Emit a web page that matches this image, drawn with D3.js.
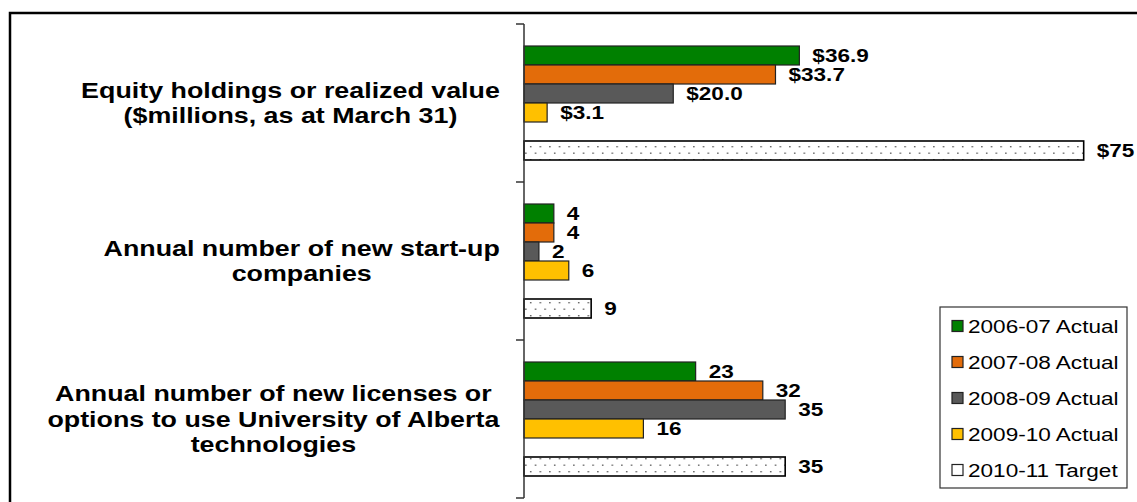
<!DOCTYPE html>
<html>
<head>
<meta charset="utf-8">
<script src="https://cdn.jsdelivr.net/npm/d3@7"></script>
<style>
    body { margin: 0; background: #ffffff; }
    text { font-family: "Liberation Sans", Arial, sans-serif; fill: #000; }
</style>
</head>
<body>
<svg id="drawing_region"></svg>
<script>
// category label lines (top to bottom)
const categories = [
    ["Equity holdings or realized value", "($millions, as at March 31)"],
    ["Annual number of new start-up", "companies"],
    ["Annual number of new licenses or", "options to use University of Alberta", "technologies"]
];

const seriesNames = ["2006-07 Actual", "2007-08 Actual", "2008-09 Actual", "2009-10 Actual", "2010-11 Target"];

const actual0607 = [36.9, 4, 23];
const actual0708 = [33.7, 4, 32];
const actual0809 = [20.0, 2, 35];
const actual0910 = [3.1, 6, 16];
const target1011 = [75, 9, 35];

const labels0607 = ["$36.9", "4", "23"];
const labels0708 = ["$33.7", "4", "32"];
const labels0809 = ["$20.0", "2", "35"];
const labels0910 = ["$3.1", "6", "16"];
const labels1011 = ["$75", "9", "35"];

const xDomain = [0, 80];

const seriesValues = [actual0607, actual0708, actual0809, actual0910, target1011];
const seriesLabels = [labels0607, labels0708, labels0809, labels0910, labels1011];
const colors = ["#008000", "#e36c0a", "#595959", "#ffc000", "url(#dots)"];

var config = {
    parent: '#drawing_region',
    width: 1137,
    height: 502,
    plot: { left: 524, right: 1121, top: 24, bottom: 498 },
    stretch: 1.22,
    legend: { x: 940, y: 307, w: 187, h: 181, row0: 326, rowStep: 36 }
};

const svg = d3.select(config.parent)
    .attr('width', config.width)
    .attr('height', config.height);

// dotted fill for the target bars
const pat = svg.append('defs').append('pattern')
    .attr('id', 'dots')
    .attr('patternUnits', 'userSpaceOnUse')
    .attr('width', 9.6)
    .attr('height', 13);
pat.append('rect').attr('width', 9.6).attr('height', 13).attr('fill', '#fff');
pat.append('rect').attr('x', 2).attr('y', 3).attr('width', 1.4).attr('height', 1.4).attr('fill', '#555');
pat.append('rect').attr('x', 6.8).attr('y', 9.5).attr('width', 1.4).attr('height', 1.4).attr('fill', '#555');

// outer frame (runs off the right and bottom edge)
svg.append('rect')
    .attr('x', 10).attr('y', 13)
    .attr('width', 1140).attr('height', 500)
    .attr('fill', 'none')
    .attr('stroke', '#000')
    .attr('stroke-width', 2.5);

const xscale = d3.scaleLinear()
    .domain(xDomain)
    .range([config.plot.left, config.plot.right]);

const yscale = d3.scaleBand()
    .domain(d3.range(categories.length))
    .range([config.plot.top, config.plot.bottom]);

// five series slots plus an empty slot before the target
const slots = seriesNames.slice(0, 4).concat(["gap", seriesNames[4]]);
const inner = d3.scaleBand()
    .domain(slots)
    .range([0, yscale.bandwidth()])
    .paddingOuter(1.158);

const sx = config.stretch;
const place = (x, y) => `translate(${x},${y}) scale(${sx},1)`;

// bars
seriesNames.forEach((name, si) => {
    const g = svg.append('g');
    const rows = seriesValues[si].map((v, ci) => ({ v: v, ci: ci, label: seriesLabels[si][ci] }));

    g.selectAll('rect')
        .data(rows)
        .enter()
        .append('rect')
        .attr('x', xscale(0))
        .attr('y', d => yscale(d.ci) + inner(name))
        .attr('width', d => xscale(d.v) - xscale(0))
        .attr('height', inner.bandwidth())
        .attr('fill', colors[si])
        .attr('stroke', si == 4 ? '#000' : '#222')
        .attr('stroke-width', si == 4 ? 1.6 : 1.2);

    g.selectAll('text')
        .data(rows)
        .enter()
        .append('text')
        .attr('transform', d => place(xscale(d.v) + 13, yscale(d.ci) + inner(name) + inner.bandwidth() / 2))
        .attr('dy', '0.36em')
        .attr('font-size', 18.5)
        .attr('font-weight', 'bold')
        .text(d => d.label);
});

// category axis with ticks between categories
const axis = svg.append('g').attr('stroke', '#333').attr('stroke-width', 1.5);
axis.append('line')
    .attr('x1', xscale(0)).attr('x2', xscale(0))
    .attr('y1', yscale.range()[0]).attr('y2', yscale.range()[1]);
const bounds = yscale.domain().map(d => yscale(d)).concat([yscale.range()[1]]);
axis.selectAll('.tick')
    .data(bounds)
    .enter()
    .append('line')
    .attr('x1', xscale(0) - 8).attr('x2', xscale(0))
    .attr('y1', d => d).attr('y2', d => d);

// category labels: block right-aligned to the axis, lines centered
const lineStep = 26;
categories.forEach((lines, ci) => {
    const t = svg.append('text')
        .attr('text-anchor', 'middle')
        .attr('font-size', 22)
        .attr('font-weight', 'bold');
    const mid = yscale(ci) + yscale.bandwidth() / 2;
    lines.forEach((ln, li) => {
        t.append('tspan')
            .attr('x', 0)
            .attr('y', (li - (lines.length - 1) / 2) * lineStep + 7.5)
            .text(ln);
    });
    const w = t.node().getBBox().width * sx;
    t.attr('transform', place(500 - w / 2, mid));
});

// legend
const lg = config.legend;
const legend = svg.append('g');
legend.append('rect')
    .attr('x', lg.x).attr('y', lg.y)
    .attr('width', lg.w).attr('height', lg.h)
    .attr('fill', '#fff')
    .attr('stroke', '#333')
    .attr('stroke-width', 1.2);

const items = legend.selectAll('.item')
    .data(seriesNames)
    .enter()
    .append('g');

items.append('rect')
    .attr('x', lg.x + 12)
    .attr('y', (d, i) => lg.row0 + i * lg.rowStep - 5.5)
    .attr('width', 11)
    .attr('height', 11)
    .attr('fill', (d, i) => i == 4 ? '#fff' : colors[i])
    .attr('stroke', '#222')
    .attr('stroke-width', 1.2);

items.append('text')
    .attr('transform', (d, i) => place(lg.x + 28, lg.row0 + i * lg.rowStep))
    .attr('dy', '0.36em')
    .attr('font-size', 18.5)
    .text(d => d);
</script>
</body>
</html>
